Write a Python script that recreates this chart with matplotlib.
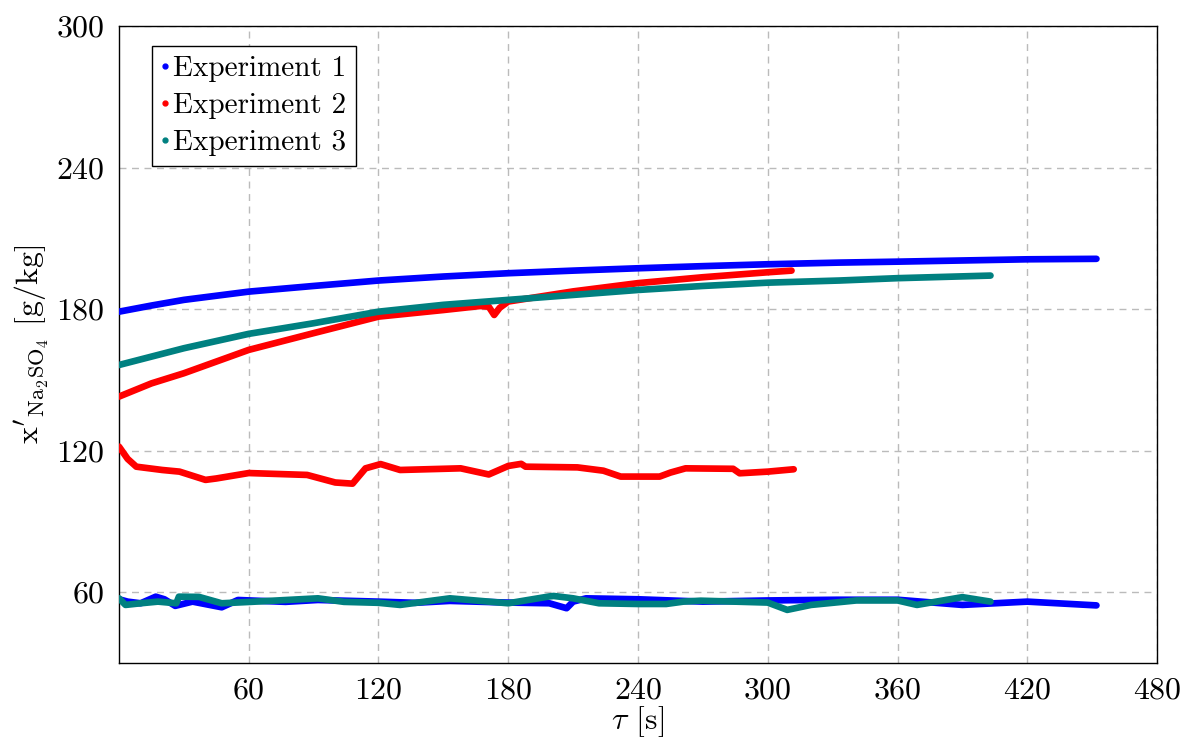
import matplotlib
matplotlib.use("Agg")
import matplotlib.pyplot as plt

# time [s] and concentration [g/kg]
exp1_hi_t = [0, 15, 30, 60, 90, 120, 150, 180, 210, 240, 270, 300, 333, 360, 390, 420, 452]
exp1_hi_x = [178.9, 181.5, 183.9, 187.4, 189.8, 192.1, 193.8, 195.2, 196.3, 197.3, 198.2,
             199.0, 199.7, 200.1, 200.6, 201.1, 201.3]
exp1_lo_t = [0, 4, 10, 17, 21, 26, 34, 47.5, 55, 77, 92, 104, 120, 137, 153, 180, 199, 207,
             210, 216, 240, 270, 300, 332, 360, 390, 420, 452]
exp1_lo_x = [57.0, 56.0, 55.3, 58.1, 57.0, 54.2, 56.0, 53.6, 56.7, 55.9, 56.7, 56.4, 56.0,
             55.5, 56.3, 55.6, 55.3, 53.2, 56.0, 57.4, 57.0, 56.0, 56.5, 56.8, 56.8, 54.6,
             56.0, 54.4]

exp2_hi_t = [0, 15, 30, 60, 90, 120, 150, 167, 171, 173.5, 176, 180, 210, 240, 270, 300, 311]
exp2_hi_x = [142.9, 148.5, 152.8, 162.7, 169.8, 176.8, 179.6, 181.3, 181.0, 177.5, 180.5,
             183.2, 187.5, 191.0, 193.5, 195.6, 196.3]
exp2_lo_t = [0, 4, 8, 20, 28, 40, 45, 60, 87, 100, 108, 114, 121, 130, 158, 171, 180, 186,
             188, 212, 224, 232, 250, 255, 262, 284, 287, 300, 312]
exp2_lo_x = [121.7, 116.5, 113.2, 111.8, 111.1, 107.6, 108.2, 110.5, 109.7, 106.5, 106.0,
             112.5, 114.3, 111.8, 112.5, 109.9, 113.5, 114.4, 113.2, 112.9, 111.5, 109.0,
             109.0, 110.7, 112.5, 112.3, 110.4, 111.1, 112.1]

exp3_hi_t = [0, 30, 60, 90, 120, 150, 180, 210, 240, 270, 300, 333, 360, 403]
exp3_hi_x = [156.3, 163.4, 169.5, 174.0, 178.9, 181.8, 183.9, 186.0, 188.1, 189.8, 191.2,
             192.1, 193.1, 194.2]
exp3_lo_t = [0, 3, 10, 18, 26.5, 27.7, 37, 47.5, 61, 92, 104, 120, 130, 153, 180, 199, 201,
             210, 222, 240, 253, 261, 269, 300, 309, 320, 341, 360, 369, 390, 403]
exp3_lo_x = [57.4, 54.6, 55.3, 56.0, 55.3, 58.1, 58.0, 55.3, 55.9, 57.4, 55.9, 55.5, 54.6,
             57.4, 55.3, 58.2, 58.4, 57.4, 55.3, 55.0, 55.0, 56.0, 56.4, 55.6, 52.5, 54.6,
             56.5, 56.5, 54.6, 57.9, 56.0]

labels = ["Experiment 1", "Experiment 2", "Experiment 3"]
colors = ["#0000ff", "#ff0000", "#008080"]

xticks = [60, 120, 180, 240, 300, 360, 420, 480]
yticks = [60, 120, 180, 240, 300]

plt.rcParams["font.family"] = "serif"
plt.rcParams["font.serif"] = ["cmr10"]
plt.rcParams["mathtext.fontset"] = "cm"
plt.rcParams["axes.formatter.use_mathtext"] = True

fig = plt.figure(figsize=(11.84, 7.40), dpi=100)
ax = fig.add_axes([0.1005, 0.1041, 0.8767, 0.8608])

series = [
    [(exp1_hi_t, exp1_hi_x), (exp1_lo_t, exp1_lo_x)],
    [(exp2_hi_t, exp2_hi_x), (exp2_lo_t, exp2_lo_x)],
    [(exp3_hi_t, exp3_hi_x), (exp3_lo_t, exp3_lo_x)],
]
for curves, c in zip(series, colors):
    for t, x in curves:
        ax.plot(t, x, color=c, lw=4.8, solid_capstyle="round", solid_joinstyle="round", zorder=3)

# legend handles: just a small dot like pgfplots
handles = [ax.plot([], [], ls="none", marker="o", ms=3.5, color=c)[0] for c in colors]
leg = ax.legend(handles, labels, loc="upper left", bbox_to_anchor=(0.032, 0.969),
                borderaxespad=0, fontsize=21, handlelength=0.15, handletextpad=0.2,
                labelspacing=0.36, borderpad=0.35, fancybox=False, framealpha=1,
                edgecolor="black")
leg.get_frame().set_linewidth(1.0)

ax.set_xlim(0, 480)
ax.set_ylim(30, 300)
ax.set_xticks(xticks)
ax.set_yticks(yticks)
ax.tick_params(length=0, labelsize=23, pad=10)
ax.grid(True, color="#bbbbbb", ls=(0, (5, 4)), lw=1.0)
ax.set_axisbelow(True)
for s in ax.spines.values():
    s.set_linewidth(1.0)

ax.set_xlabel(r"$\tau$ [s]", fontsize=23, labelpad=0)
ax.set_ylabel(r"$\mathrm{x}'_{\mathrm{Na_2SO_4}}$ [g/kg]", fontsize=23, labelpad=4)

fig.savefig("out.png", dpi=100)
